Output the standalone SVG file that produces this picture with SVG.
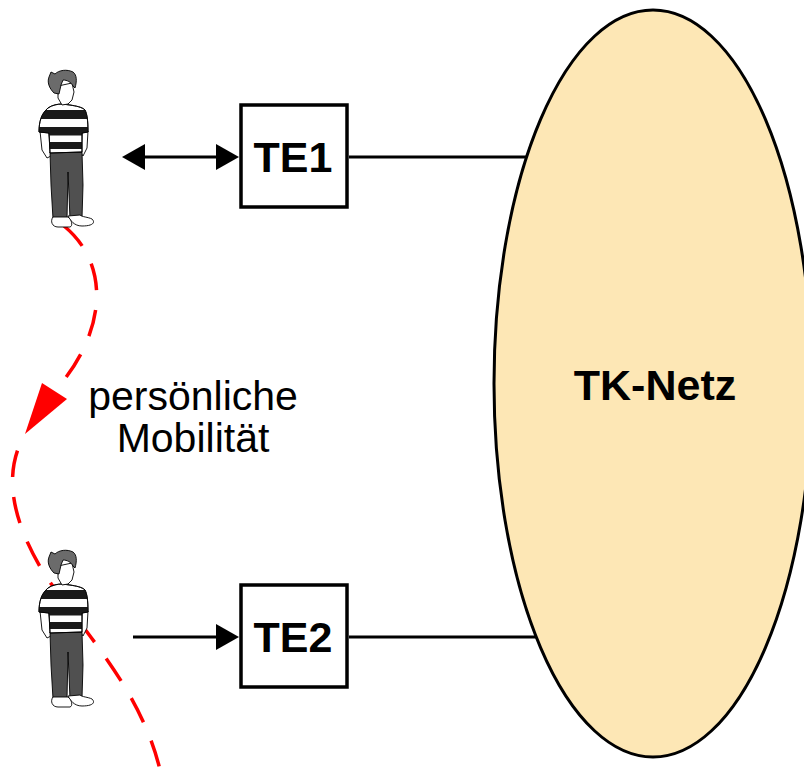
<svg xmlns="http://www.w3.org/2000/svg" xmlns:xlink="http://www.w3.org/1999/xlink" width="804" height="784" viewBox="0 0 804 784">
  <style>
    .lbl { font-family: "Liberation Sans", Arial, sans-serif; fill: #000; }
    .bold { font-weight: bold; font-size: 43px; text-anchor: middle; }
    .reg { font-size: 41px; text-anchor: middle; }
    .box { fill: #fff; stroke: #000; stroke-width: 3.5; }
    .wire { stroke: #000; stroke-width: 3; fill: none; }
    .path { stroke: #ff0000; stroke-width: 3.5; fill: none; stroke-dasharray: 27 20; }
    .ol { stroke: #000; stroke-width: 0.9; stroke-linejoin: round; }
  </style>
  <defs>
    <marker id="head" markerUnits="userSpaceOnUse" markerWidth="24" markerHeight="26" refX="0" refY="13" orient="auto-start-reverse" viewBox="0 0 24 26">
      <path d="M0,0 L23,13 L0,26 Z" fill="#000"/>
    </marker>
    <clipPath id="shirtClip">
      <path d="M48,108 C52,105 58,104 62,104 L70,105 C76,106 82,107 85,110 C87,114 88,120 88,132 L82,133 L82,152 L50,153 L49,133 L39,132 C39,122 41,114 48,108 Z"/>
    </clipPath>
    <!-- standing user figure -->
    <g id="person">
      <!-- arms -->
      <path class="ol" fill="#fff" d="M40,131 L42,150 L47,158 L51,156 L49,132 Z"/>
      <path class="ol" fill="#fff" d="M82,132 L88,131 L87,148 L83,156 L81,153 Z"/>
      <!-- trousers -->
      <path class="ol" fill="#505050" d="M50,152 L82,152 L83,185 L82,218 L70,219 L68,172 L67,219 L53,219 L51,185 Z"/>
      <!-- shoes -->
      <path class="ol" fill="#fff" d="M68,216 C70,220 74,226 82,226 C92,226 96,223 92,219 C88,217 82,217 80,215 Z"/>
      <path class="ol" fill="#fff" d="M53,217 C50,221 52,227 58,227 L70,227 C73,226 72,220 68,217 Z"/>
      <!-- striped shirt -->
      <path class="ol" fill="#fff" d="M48,108 C52,105 58,104 62,104 L70,105 C76,106 82,107 85,110 C87,114 88,120 88,132 L82,133 L82,152 L50,153 L49,133 L39,132 C39,122 41,114 48,108 Z"/>
      <g clip-path="url(#shirtClip)" fill="#1a1a1a">
        <rect x="36" y="110" width="56" height="9"/>
        <rect x="36" y="127" width="56" height="8.5"/>
        <rect x="36" y="142" width="56" height="7"/>
      </g>
      <path class="ol" fill="none" d="M48,108 C52,105 58,104 62,104 L70,105 C76,106 82,107 85,110 C87,114 88,120 88,132 L82,133 L82,152 L50,153 L49,133 L39,132 C39,122 41,114 48,108 Z"/>
      <!-- face -->
      <path class="ol" fill="#fff" d="M58,86 L72,83 L74,92 L72,100 L68,104 L62,105 L58,98 Z"/>
      <!-- hair -->
      <path class="ol" fill="#6b6b6b" d="M49,77 L51,72 L55,74 C59,70 67,69 73,72 C77,75 77,81 75,88 L73,86 C71,82 67,80 63,80 L61,85 L59,94 L54,93 C49,88 47,82 49,77 Z"/>
    </g>
  </defs>

  <!-- network cloud -->
  <g id="tk-netz">
    <line class="wire" x1="349" y1="157" x2="560" y2="157"/>
    <line class="wire" x1="349" y1="637" x2="560" y2="637"/>
    <ellipse cx="653" cy="383.5" rx="159" ry="373.5" fill="#fde7b5" stroke="#000" stroke-width="3"/>
    <text class="lbl bold" x="655" y="400">TK-Netz</text>
  </g>

  <!-- connectors -->
  <g id="connectors">
    <line class="wire" x1="145" y1="157" x2="216" y2="157" marker-start="url(#head)" marker-end="url(#head)"/>
    <line class="wire" x1="133" y1="637" x2="216" y2="637" marker-end="url(#head)"/>
    <!-- personal mobility path -->
    <path class="path" d="M64,226 C108,262 110,328 55,391"/>
    <polygon points="25,434 42,383 67,399" fill="#ff0000"/>
    <path class="path" d="M24,436 C5,470 8,515 45,575 C90,640 150,700 164,790" stroke-dashoffset="-16"/>
  </g>

  <g id="user1"><use xlink:href="#person"/></g>
  <g id="user2"><use xlink:href="#person" transform="translate(0,480)"/></g>

  <g id="te1">
    <rect class="box" x="241" y="105" width="106" height="102"/>
    <text class="lbl bold" x="293" y="172">TE1</text>
  </g>
  <g id="te2">
    <rect class="box" x="241" y="585" width="106" height="102"/>
    <text class="lbl bold" x="293" y="652">TE2</text>
  </g>

  <g id="mobility-label">
    <text class="lbl reg" x="193" y="410">persönliche</text>
    <text class="lbl reg" x="193" y="452">Mobilität</text>
  </g>
</svg>
